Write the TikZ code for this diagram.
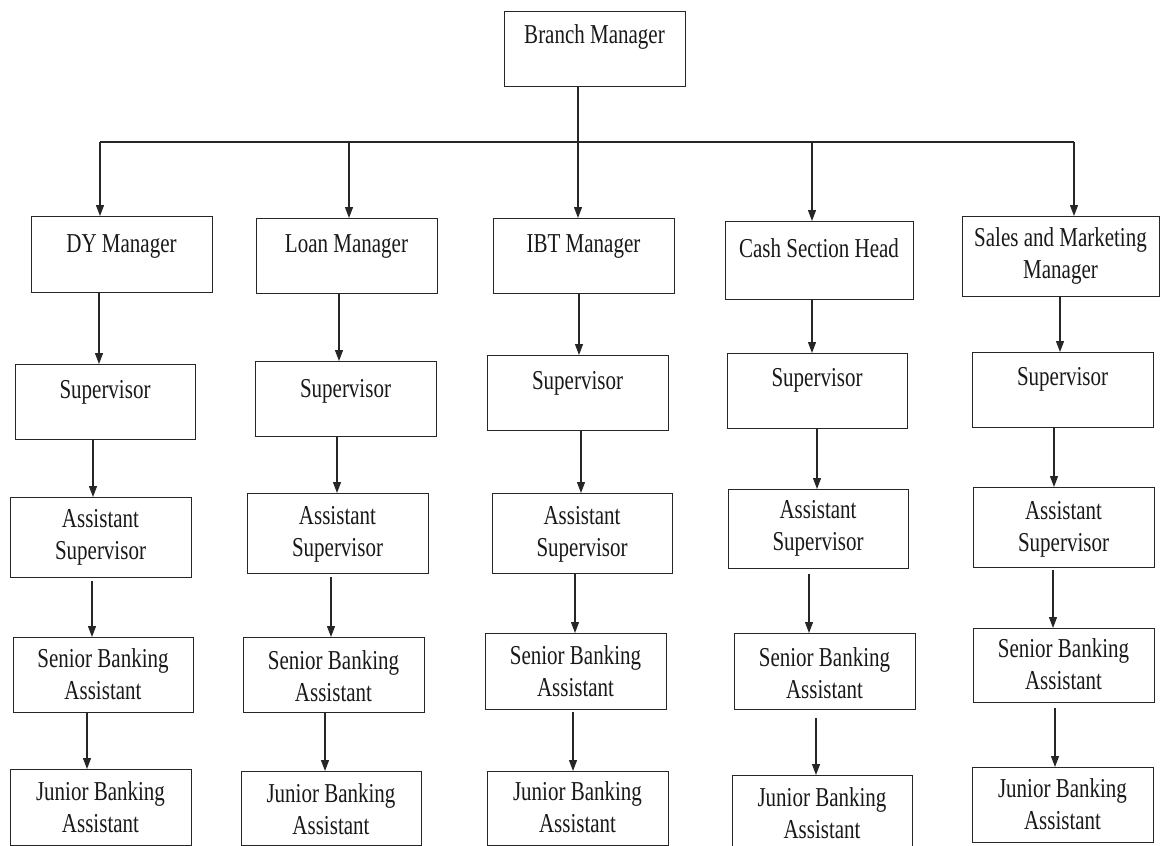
\documentclass[tikz,border=0pt]{standalone}
\usepackage{fontspec}
\setmainfont{Liberation Serif}
\usetikzlibrary{arrows.meta}
\newcommand{\tx}[1]{\scalebox{1}[1.3]{\begin{tabular}{@{}c@{}}#1\end{tabular}}}
% name, x1, y1, x2, y2, text centre y, text
\newcommand{\bx}[7]{%
  \node[box, anchor=north west, minimum width={(#4-#2)*1pt}, minimum height={(#5-#3)*1pt}] (#1) at (#2,#3) {};
  \node[txt] (#1-t) at ({(#2+#4)/2},#6) {\tx{#7}};}
% from, to, x, gap at start
\newcommand{\cn}[4]{\coordinate (cx) at (#3,0); \draw[arr, shorten <=#4pt] (#1.south -| cx) -- (#2.north -| cx);}
\tikzset{
  box/.style={draw=black!85, line width=1.3pt, rectangle, inner sep=0pt, fill=white},
  txt/.style={inner sep=0pt, font=\fontsize{21}{24.6}\selectfont, text=black!90},
  line/.style={draw=black!85, line width=1.2pt},
  arr/.style={line, -{Triangle[length=11pt,width=8pt]}},
}
\begin{document}
\begin{tikzpicture}[x=1pt,y=-1pt]
\useasboundingbox[fill=white] (0,0) rectangle (1160,846);
% top
\bx{bm}{504}{11}{685}{86}{37}{Branch Manager}
% managers
\bx{dy}{31}{216}{212}{292}{246}{DY Manager}
\bx{loan}{256}{218}{437}{293}{246}{Loan Manager}
\bx{ibt}{493}{218}{674}{293}{246}{IBT Manager}
\bx{cash}{725}{221}{913}{299}{251}{Cash Section Head}
\bx{sales}{962}{216}{1159}{296}{256.5}{Sales and Marketing\\Manager}
% supervisors
\bx{dys}{15}{364}{195}{439}{392}{Supervisor}
\bx{loans}{255}{361}{436}{436}{391}{Supervisor}
\bx{ibts}{487}{355}{668}{430}{383}{Supervisor}
\bx{cashs}{727}{353}{907}{428}{380}{Supervisor}
\bx{saless}{972}{352}{1153}{427}{379}{Supervisor}
% assistant supervisors
\bx{dya}{10}{497}{191}{577}{537}{Assistant\\Supervisor}
\bx{loana}{247}{493}{428}{573}{534}{Assistant\\Supervisor}
\bx{ibta}{492}{493}{672}{573}{534}{Assistant\\Supervisor}
\bx{casha}{728}{489}{908}{568}{528.5}{Assistant\\Supervisor}
\bx{salesa}{973}{487}{1154}{567}{529}{Assistant\\Supervisor}
% senior banking assistants
\bx{dyb}{13}{637}{193}{712}{677.5}{Senior Banking\\Assistant}
\bx{loanb}{243}{637}{424}{712}{679}{Senior Banking\\Assistant}
\bx{ibtb}{485}{633}{666}{709}{674}{Senior Banking\\Assistant}
\bx{cashb}{734}{633}{915}{709}{676}{Senior Banking\\Assistant}
\bx{salesb}{973}{628}{1154}{702}{667.5}{Senior Banking\\Assistant}
% junior banking assistants
\bx{dyj}{10}{769}{191}{845}{810}{Junior Banking\\Assistant}
\bx{loanj}{241}{771}{421}{845}{812.5}{Junior Banking\\Assistant}
\bx{ibtj}{487}{771}{668}{845}{810}{Junior Banking\\Assistant}
\bx{cashj}{732}{775}{912}{852}{816}{Junior Banking\\Assistant}
\bx{salesj}{972}{767}{1153}{842}{807}{Junior Banking\\Assistant}
% connectors from the branch manager
\coordinate (hl) at (100,142);
\coordinate (hloan) at (349,142);
\coordinate (hcash) at (812,142);
\coordinate (hr) at (1074,142);
\draw[line] (hl) -- (hr);
\cn{bm}{ibt}{578}{0}
\draw[arr] (hl) -- (dy.north -| hl);
\draw[arr] (hloan) -- (loan.north -| hloan);
\draw[arr] (hcash) -- (cash.north -| hcash);
\draw[arr] (hr) -- (sales.north -| hr);
% column DY
\cn{dy}{dys}{99}{0}
\cn{dys}{dya}{93}{0}
\cn{dya}{dyb}{92}{3}
\cn{dyb}{dyj}{87}{0}
% column Loan
\cn{loan}{loans}{339}{0}
\cn{loans}{loana}{337}{0}
\cn{loana}{loanb}{331}{3}
\cn{loanb}{loanj}{325}{0}
% column IBT
\cn{ibt}{ibts}{579}{0}
\cn{ibts}{ibta}{581}{0}
\cn{ibta}{ibtb}{575}{0}
\cn{ibtb}{ibtj}{573}{2}
% column Cash
\cn{cash}{cashs}{812}{0}
\cn{cashs}{casha}{817}{0}
\cn{casha}{cashb}{809}{5}
\cn{cashb}{cashj}{816}{8}
% column Sales
\cn{sales}{saless}{1060}{0}
\cn{saless}{salesa}{1054}{0}
\cn{salesa}{salesb}{1053}{2}
\cn{salesb}{salesj}{1055}{5}
\end{tikzpicture}
\end{document}
